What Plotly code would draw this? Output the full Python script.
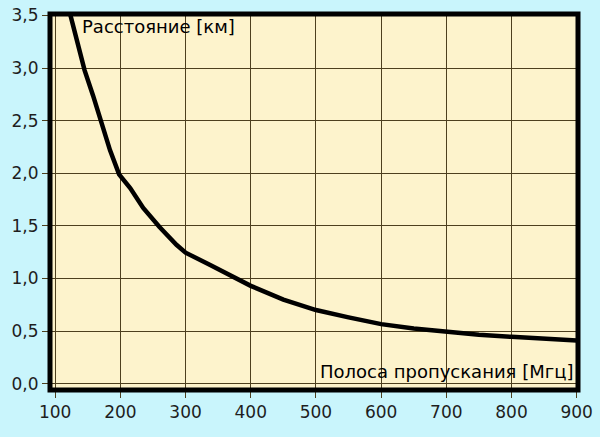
import plotly.graph_objects as go

bandwidth_mhz = [116, 124, 133, 145, 158, 171, 184, 198, 215, 235, 260, 286, 300, 337, 368, 400,
                 450, 500, 550, 600, 650, 700, 750, 800, 850, 900]
distance_km = [3.68, 3.49, 3.24, 2.98, 2.74, 2.49, 2.22, 1.99, 1.86, 1.67, 1.49, 1.32, 1.245, 1.13, 1.035, 0.93,
               0.80, 0.70, 0.63, 0.566, 0.525, 0.49, 0.465, 0.445, 0.428, 0.41]

x_ticks = [100, 200, 300, 400, 500, 600, 700, 800, 900]
y_ticks = [0.0, 0.5, 1.0, 1.5, 2.0, 2.5, 3.0, 3.5]
y_tick_labels = [f"{v:.1f}".replace(".", ",") for v in y_ticks]

y_title = "Расстояние [км]"
x_title = "Полоса пропускания [Мгц]"

FONT = "DejaVu Sans, Verdana, sans-serif"

fig = go.Figure()
fig.add_trace(go.Scatter(
    x=bandwidth_mhz, y=distance_km, mode="lines",
    line=dict(color="#000000", width=4.5), cliponaxis=True, hoverinfo="skip"))

grid_color = "#4d3f1e"
tick_font = dict(family=FONT, size=17, color="#1e1e1e")

fig.update_layout(
    width=600, height=437,
    margin=dict(l=50, r=22, t=14, b=47, autoexpand=False),
    paper_bgcolor="#c9f5fc",
    plot_bgcolor="#fdf3cc",
    showlegend=False,
    xaxis=dict(range=[92, 902], tickvals=x_ticks, ticktext=[str(v) for v in x_ticks],
               showgrid=True, gridcolor=grid_color, gridwidth=1, zeroline=False,
               ticks="outside", ticklen=7, tickcolor=grid_color, tickwidth=1,
               tickfont=tick_font, showline=False, automargin=False),
    yaxis=dict(range=[-0.06, 3.514], tickvals=y_ticks, ticktext=y_tick_labels,
               showgrid=True, gridcolor=grid_color, gridwidth=1, zeroline=False,
               ticks="outside", ticklen=7, tickcolor=grid_color, tickwidth=1,
               tickfont=tick_font, showline=False, automargin=False),
    shapes=[dict(type="rect", xref="paper", yref="paper", x0=0, x1=1, y0=0, y1=1,
                 line=dict(color="#000000", width=5), layer="above")],
    annotations=[
        dict(text=y_title, xref="paper", yref="paper", x=0.057, y=0.968,
             xanchor="left", yanchor="middle", showarrow=False,
             font=dict(family=FONT, size=18, color="#000000")),
        dict(text=x_title, xref="paper", yref="paper", x=0.995, y=0.048,
             xanchor="right", yanchor="middle", showarrow=False,
             font=dict(family=FONT, size=18, color="#000000")),
    ],
)

fig.write_html("out.html", config={"displayModeBar": False, "staticPlot": True},
               post_script="document.body.style.margin='0';document.body.style.overflow='hidden';")
